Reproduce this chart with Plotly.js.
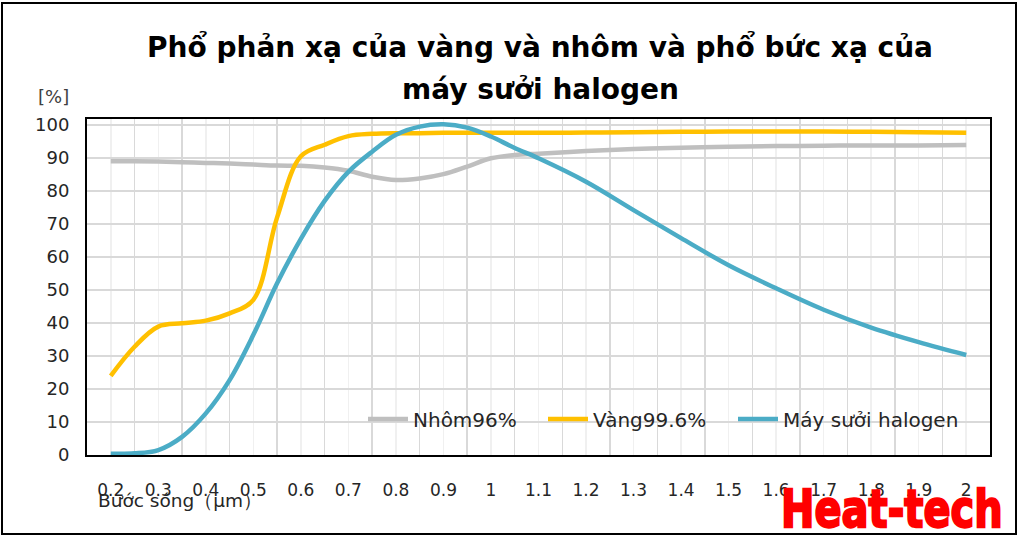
<!DOCTYPE html>
<html>
<head>
<meta charset="utf-8">
<script src="https://cdn.plot.ly/plotly-3.0.1.min.js"></script>
<style>
  html, body { margin: 0; padding: 0; background: #fff; }
  #wrap { position: relative; width: 1024px; height: 552px; overflow: hidden; }
  #chart { position: absolute; left: 0; top: 0; width: 1024px; height: 552px; }
  #logo {
    position: absolute; left: 781px; top: 486px;
    font-family: "DejaVu Sans", sans-serif; font-weight: bold;
    font-size: 50px; line-height: 44px; color: #ff0000;
    -webkit-text-stroke: 2.2px #ff0000;
    transform: scaleX(0.8) scaleY(1.04); transform-origin: left top;
    white-space: nowrap; pointer-events: none;
  }
</style>
</head>
<body>
<div id="wrap">
  <div id="chart"></div>
  <div id="logo">Heat-tech</div>
</div>
<script>
// Wavelength (µm)
const wavelength = [0.2, 0.25, 0.3, 0.35, 0.4, 0.45, 0.5, 0.55, 0.6, 0.65, 0.7, 0.75, 0.8, 0.85, 0.9, 0.95, 1.0, 1.05, 1.1, 1.2, 1.3, 1.4, 1.5, 1.6, 1.7, 1.8, 1.9, 2.0];
// Reflectance / radiation (%)
const nhom = [89.0, 89.0, 88.9, 88.7, 88.5, 88.3, 88.0, 87.7, 87.6, 87.1, 86.1, 84.3, 83.3, 83.8, 85.1, 87.4, 89.9, 90.9, 91.3, 92.1, 92.7, 93.1, 93.4, 93.6, 93.7, 93.8, 93.8, 93.9];
const vang = [24.0, 32.8, 38.9, 39.9, 40.7, 42.9, 47.0, 72.0, 90.5, 94.0, 96.6, 97.3, 97.5, 97.5, 97.6, 97.6, 97.6, 97.6, 97.6, 97.7, 97.8, 97.9, 98.0, 98.0, 98.0, 97.9, 97.8, 97.6];
const halogen = [0.4, 0.5, 1.5, 5.5, 12.6, 22.7, 36.4, 52.0, 65.5, 77.0, 85.8, 91.9, 97.0, 99.5, 100.2, 99.2, 96.5, 93.0, 89.9, 82.8, 74.2, 65.7, 57.5, 50.5, 44.0, 38.6, 34.2, 30.3];

const seriesNames = ['Nhôm96%', 'Vàng99.6%', 'Máy sưởi halogen'];
const seriesColors = ['#bfbfbf', '#ffc000', '#4bacc6'];
const xTickVals = [0.2, 0.3, 0.4, 0.5, 0.6, 0.7, 0.8, 0.9, 1.0, 1.1, 1.2, 1.3, 1.4, 1.5, 1.6, 1.7, 1.8, 1.9, 2.0];
const xTickText = ['0.2', '0.3', '0.4', '0.5', '0.6', '0.7', '0.8', '0.9', '1', '1.1', '1.2', '1.3', '1.4', '1.5', '1.6', '1.7', '1.8', '1.9', '2'];

const titleLine1 = 'Phổ phản xạ của vàng và nhôm và phổ bức xạ của';
const titleLine2 = 'máy sưởi halogen';
const xTitle = 'Bước sóng（μm）';
const yTitle = '[%]';

// plot area in px: x 87..990, y 119..455
const L = 87, R = 990, T = 119, B = 455;
const px = v => (v - L) / (R - L);
const py = v => (B - v) / (B - T);

const legendIds = ['legend', 'legend2', 'legend3'];
const legendTextStart = [413, 593, 783];

const ys = [nhom, vang, halogen];
const traces = ys.map((y, i) => ({
  type: 'scatter', mode: 'lines', x: wavelength, y: y, name: seriesNames[i],
  legend: legendIds[i],
  line: { color: seriesColors[i], width: 4.5, shape: 'spline', smoothing: 1 },
  hoverinfo: 'skip'
}));

const tickFont = { family: 'DejaVu Sans, sans-serif', size: 17, color: '#262626' };

const layout = {
  width: 1024, height: 552,
  margin: { l: L, r: 1024 - R, t: T, b: 552 - B, pad: 0 },
  paper_bgcolor: '#ffffff', plot_bgcolor: '#ffffff',
  showlegend: true,
  title: {
    text: titleLine1,
    font: { family: 'DejaVu Sans, sans-serif', size: 28, color: '#000000', weight: 'bold' },
    xref: 'container', yref: 'container', x: 540 / 1024, xanchor: 'center',
    y: 1 - 47 / 552, yanchor: 'middle'
  },
  xaxis: {
    range: [0.15, 2.05], tickmode: 'array', tickvals: xTickVals, ticktext: xTickText,
    showgrid: true, gridcolor: '#f0f0f0', gridwidth: 1.5,
    minor: { tickmode: 'linear', tick0: 0.15, dtick: 0.1, showgrid: true, gridcolor: '#d9d9d9', gridwidth: 1.5, ticks: '' },
    showline: true, linecolor: '#000000', linewidth: 2, mirror: true,
    ticks: '', tickfont: tickFont, ticklabelstandoff: 19, zeroline: false
  },
  yaxis: {
    range: [0, 101.8], tickmode: 'linear', tick0: 0, dtick: 10,
    showgrid: true, gridcolor: '#d9d9d9', gridwidth: 1.5,
    showline: true, linecolor: '#000000', linewidth: 2, mirror: true,
    ticks: '', tickfont: { family: 'DejaVu Sans, sans-serif', size: 18, color: '#262626' },
    ticklabelstandoff: 12, zeroline: false
  },
  annotations: [
    { text: titleLine2, xref: 'paper', yref: 'paper', x: px(540), y: py(89), xanchor: 'center', yanchor: 'middle', showarrow: false,
      font: { family: 'DejaVu Sans, sans-serif', size: 28, color: '#000000', weight: 'bold' } },
    { text: yTitle, xref: 'paper', yref: 'paper', x: px(53), y: py(96), xanchor: 'center', yanchor: 'middle', showarrow: false,
      font: { family: 'DejaVu Sans, sans-serif', size: 18, color: '#404040' } },
    { text: xTitle, xref: 'paper', yref: 'paper', x: px(96), y: py(500), xanchor: 'left', yanchor: 'middle', showarrow: false,
      font: { family: 'DejaVu Sans, sans-serif', size: 18.5, color: '#262626' } }
  ],
  shapes: [
    { type: 'rect', xref: 'paper', yref: 'paper', x0: px(2), x1: px(1016), y0: py(534), y1: py(3),
      line: { color: '#000000', width: 2 }, fillcolor: 'rgba(0,0,0,0)', layer: 'above' }
  ]
};

legendIds.forEach((id, i) => {
  layout[id] = {
    orientation: 'h', x: px(legendTextStart[i] - 50), xanchor: 'left', y: py(419), yanchor: 'middle',
    bgcolor: 'rgba(0,0,0,0)', borderwidth: 0,
    font: { family: 'DejaVu Sans, sans-serif', size: 20, color: '#262626' },
    itemwidth: 40
  };
});

Plotly.newPlot('chart', traces, layout, { displayModeBar: false, staticPlot: true });
</script>
</body>
</html>
